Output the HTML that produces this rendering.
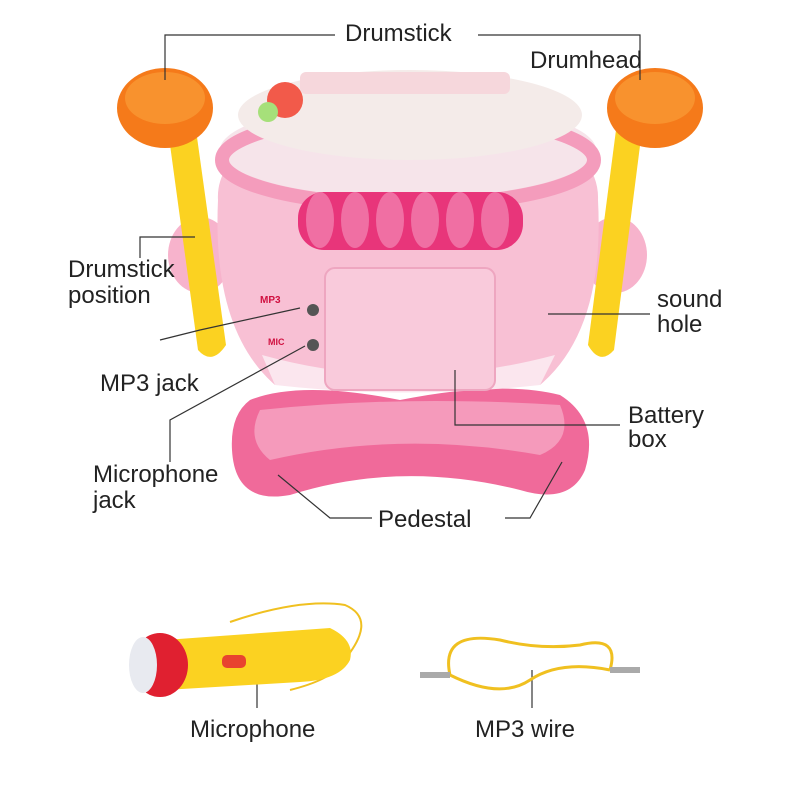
<!DOCTYPE html>
<html><head><meta charset="utf-8"><style>
html,body{margin:0;padding:0;background:#fff;}
svg{display:block;}
text{font-family:"Liberation Sans",sans-serif;font-size:24px;fill:#222;}
</style></head><body>
<svg width="790" height="795" viewBox="0 0 790 795" xmlns="http://www.w3.org/2000/svg">
<rect width="790" height="795" fill="#fff"/>
<!-- pedestal -->
<path d="M250 400 Q300 380 400 400 Q500 380 560 395 Q600 420 585 470 Q570 505 520 490 Q400 460 290 495 Q235 505 232 450 Q230 415 250 400Z" fill="#f06a9a"/>
<path d="M260 410 Q400 395 560 405 Q575 440 540 455 Q400 430 270 460 Q245 440 260 410Z" fill="#f59abb"/>
<!-- side ears -->
<ellipse cx="200" cy="255" rx="32" ry="38" fill="#f7b3cc"/>
<ellipse cx="615" cy="255" rx="32" ry="38" fill="#f7b3cc"/>
<!-- drum body -->
<path d="M218 200 Q215 150 300 120 L520 120 Q600 150 598 200 Q605 330 540 385 L275 385 Q212 330 218 200Z" fill="#f8c0d4"/>
<path d="M262 355 Q405 395 555 355 L540 385 Q405 400 275 385Z" fill="#fbe6ee"/>
<ellipse cx="408" cy="150" rx="188" ry="48" fill="#f6e4ea"/>
<ellipse cx="408" cy="160" rx="186" ry="45" fill="none" stroke="#f49cbc" stroke-width="14"/>
<ellipse cx="410" cy="115" rx="172" ry="45" fill="#f4ebe9"/>
<rect x="300" y="72" width="210" height="22" rx="6" fill="#f6d7dc"/>
<circle cx="285" cy="100" r="18" fill="#f25a4a"/>
<circle cx="268" cy="112" r="10" fill="#a6e07a"/>
<!-- pink ribs -->
<rect x="298" y="192" width="225" height="58" rx="26" fill="#e8357a"/>
<g fill="#f06fa3">
<ellipse cx="320" cy="220" rx="14" ry="28"/><ellipse cx="355" cy="220" rx="14" ry="28"/><ellipse cx="390" cy="220" rx="14" ry="28"/><ellipse cx="425" cy="220" rx="14" ry="28"/><ellipse cx="460" cy="220" rx="14" ry="28"/><ellipse cx="495" cy="220" rx="14" ry="28"/>
</g>
<!-- battery box -->
<rect x="325" y="268" width="170" height="122" rx="10" fill="#f9cadb" stroke="#eea6c0" stroke-width="2"/>
<!-- jacks -->
<circle cx="313" cy="310" r="6" fill="#555"/>
<circle cx="313" cy="345" r="6" fill="#555"/>
<text x="260" y="303" style="font-size:10px;fill:#d01040;font-weight:bold">MP3</text>
<text x="268" y="345" style="font-size:9px;fill:#d01040;font-weight:bold">MIC</text>
<!-- drumsticks -->
<path d="M168 130 L198 350 Q212 366 226 345 L196 130Z" fill="#fbd221"/>
<path d="M642 130 L614 350 Q600 366 588 345 L616 130Z" fill="#fbd221"/>
<ellipse cx="165" cy="108" rx="48" ry="40" fill="#f57a1a"/>
<ellipse cx="165" cy="98" rx="40" ry="26" fill="#f8922e"/>
<ellipse cx="655" cy="108" rx="48" ry="40" fill="#f57a1a"/>
<ellipse cx="655" cy="98" rx="40" ry="26" fill="#f8922e"/>
<!-- labels + leader lines -->
<g stroke="#333" stroke-width="1.2" fill="none">
<polyline points="165,80 165,35 335,35"/>
<polyline points="478,35 640,35 640,80"/>
<polyline points="140,258 140,237 195,237"/>
<polyline points="160,340 200,330 300,308"/>
<polyline points="170,462 170,420 305,346"/>
<polyline points="548,314 650,314"/>
<polyline points="455,370 455,425 620,425"/>
<polyline points="278,475 330,518 372,518"/>
<polyline points="562,462 530,518 505,518"/>
<polyline points="257,665 257,708"/>
<polyline points="532,670 532,708"/>
</g>
<text x="345" y="41">Drumstick</text>
<text x="530" y="68">Drumhead</text>
<text x="68" y="277">Drumstick</text>
<text x="68" y="303">position</text>
<text x="100" y="391">MP3 jack</text>
<text x="93" y="482">Microphone</text>
<text x="93" y="508">jack</text>
<text x="657" y="307">sound</text>
<text x="657" y="332">hole</text>
<text x="628" y="423">Battery</text>
<text x="628" y="447">box</text>
<text x="378" y="527">Pedestal</text>
<text x="190" y="737">Microphone</text>
<text x="475" y="737">MP3 wire</text>
<!-- microphone -->
<path d="M230 622 Q300 598 345 605 Q380 620 340 665 Q330 680 290 690" fill="none" stroke="#f0c020" stroke-width="2"/>
<path d="M165 640 L330 628 Q355 640 350 660 Q340 680 300 682 L165 690Z" fill="#fbd221"/>
<ellipse cx="160" cy="665" rx="28" ry="32" fill="#e02030"/>
<ellipse cx="143" cy="665" rx="14" ry="28" fill="#e8eaf0"/>
<rect x="222" y="655" width="24" height="13" rx="5" fill="#e8432f"/>
<!-- MP3 wire -->
<path d="M450 675 Q440 630 500 640 Q540 650 580 645 Q620 635 610 670 M450 675 Q500 700 530 680 Q560 660 610 670" fill="none" stroke="#f0c020" stroke-width="3"/>
<rect x="420" y="672" width="30" height="6" fill="#aaa"/>
<rect x="610" y="667" width="30" height="6" fill="#aaa"/>
</svg>
</body></html>
